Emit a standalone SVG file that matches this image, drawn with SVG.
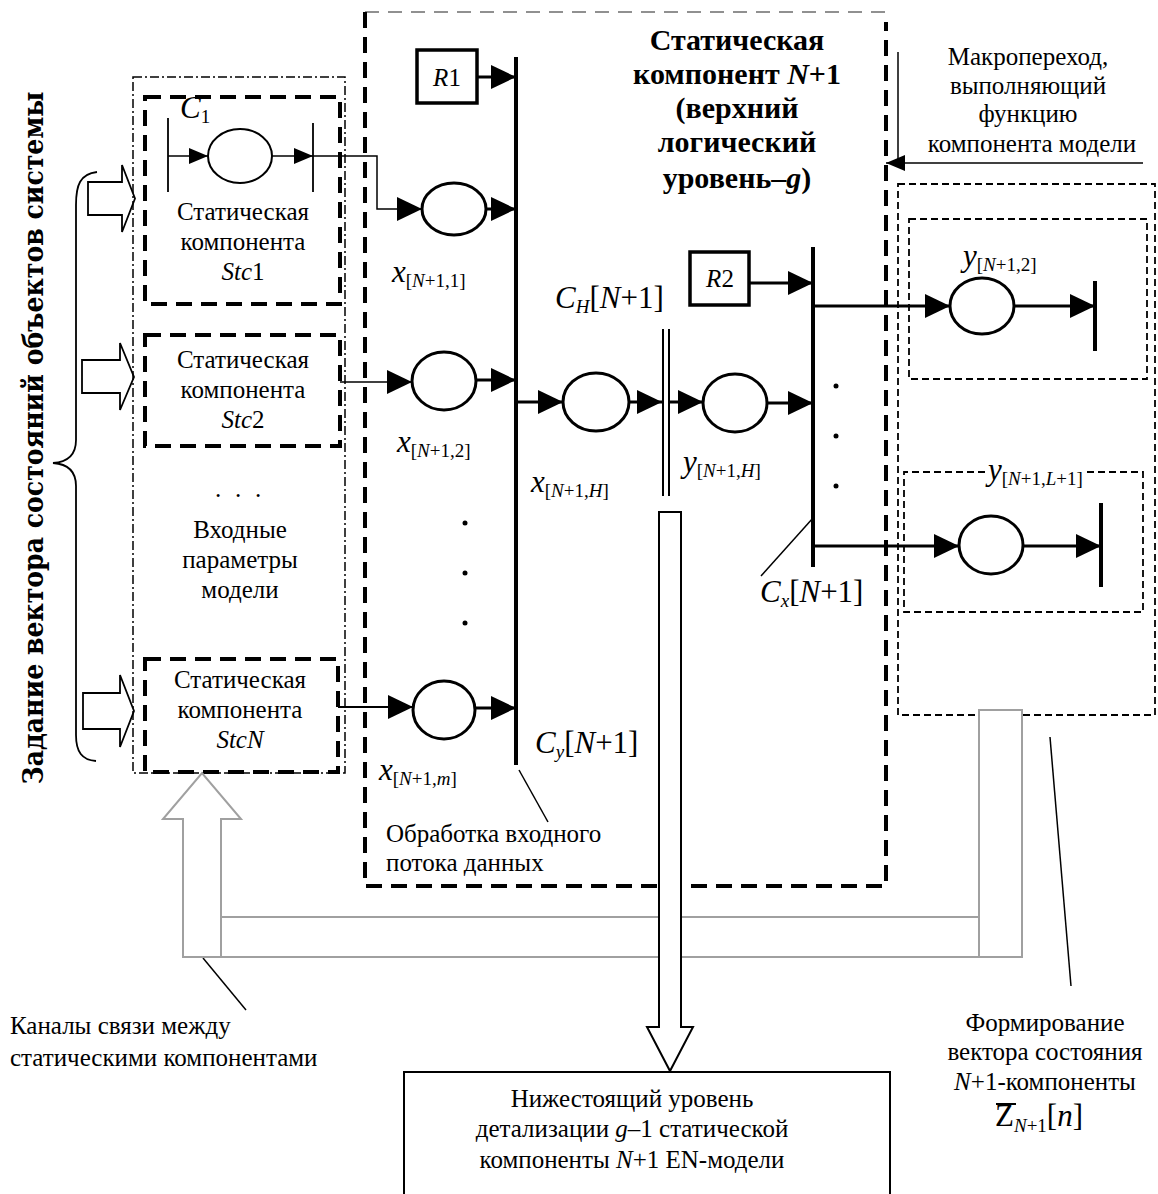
<svg xmlns="http://www.w3.org/2000/svg" width="1158" height="1194" viewBox="0 0 1158 1194">
<defs>
<style>
text{font-family:"Liberation Serif","Times New Roman",serif;fill:#000}
.t{font-size:25px}
.c{text-anchor:middle}
.ttl{font-size:30px;font-weight:bold}
.i{font-style:italic}
.lb{font-size:31px}
.sb{font-size:19px}
.vt{font-family:"DejaVu Serif",serif;font-weight:bold;font-size:28px}
.ln{stroke:#000;fill:none}
.w15{stroke-width:1.5}
.w18{stroke-width:1.8}
.w3{stroke-width:3}
.bar{stroke:#000;stroke-width:4}
.pl{fill:#fff;stroke:#000;stroke-width:3}
.sq{fill:#fff;stroke:#000;stroke-width:3.5}
.dsh{fill:none;stroke:#000;stroke-width:4;stroke-dasharray:16 9}
.dsh2{fill:none;stroke:#000;stroke-width:1.8;stroke-dasharray:7 4}
.dd{fill:none;stroke:#000;stroke-width:1.5;stroke-dasharray:9 3 2 3}
.gr{fill:#fff;stroke:#a0a0a0;stroke-width:2}
.grl{fill:none;stroke:#a0a0a0;stroke-width:2}
.blk{fill:#fff;stroke:#000;stroke-width:1.8}
.dot{fill:#000}
</style>
<marker id="ah" markerUnits="userSpaceOnUse" markerWidth="25" markerHeight="24" viewBox="0 0 25 24" refX="25" refY="12" orient="auto"><path d="M0,0 L25,12 L0,24 Z" fill="#000"/></marker>
<marker id="as" markerUnits="userSpaceOnUse" markerWidth="19" markerHeight="16" viewBox="0 0 19 16" refX="19" refY="8" orient="auto"><path d="M0,0 L19,8 L0,16 Z" fill="#000"/></marker>
</defs>
<rect x="0" y="0" width="1158" height="1194" fill="#fff"/>

<g id="side-label">
<text class="vt c" transform="translate(43,438) rotate(-90)" textLength="693" lengthAdjust="spacingAndGlyphs">Задание вектора состояний объектов системы</text>
<path class="ln w18" d="M97,172 C80,174 76,185 76,205 L76,440 C76,455 68,462 53,463 C68,464 76,471 76,486 L76,735 C76,752 82,760 96,761"/>
<path class="blk" d="M88,182 H122 V165 L135,198.5 L122,232 V215 H88 Z"/>
<path class="blk" d="M82,360 H120 V343 L134,377 L120,410 V393 H82 Z"/>
<path class="blk" d="M83,693 H120 V675 L134,711 L120,747 V729 H83 Z"/>
</g>

<g id="input-params">
<rect class="dd" x="133" y="77" width="212" height="696"/>
<text class="t" x="215 235 255" y="497">...</text>
<text class="t c" x="240" y="538">Входные</text>
<text class="t c" x="240" y="568">параметры</text>
<text class="t c" x="240" y="598">модели</text>
</g>

<g id="stc1">
<rect class="dsh" x="145" y="97" width="195" height="207"/>
<text class="lb" x="180" y="118"><tspan class="i">C</tspan><tspan class="sb" dy="5">1</tspan></text>
<line class="ln w18" x1="168" y1="118" x2="168" y2="192"/>
<line class="ln w18" x1="313" y1="123" x2="313" y2="192"/>
<ellipse cx="240" cy="156" rx="32" ry="27" fill="#fff" stroke="#000" stroke-width="2"/>
<text class="t c" x="243" y="220">Статическая</text>
<text class="t c" x="243" y="250">компонента</text>
<text class="t c" x="243" y="280"><tspan class="i">Stc</tspan>1</text>
</g>

<g id="stc2">
<rect class="dsh" x="145" y="335" width="195" height="111"/>
<text class="t c" x="243" y="368">Статическая</text>
<text class="t c" x="243" y="398">компонента</text>
<text class="t c" x="243" y="428"><tspan class="i">Stc</tspan>2</text>
</g>

<g id="stcN">
<rect class="dsh" x="145" y="659" width="193" height="113"/>
<text class="t c" x="240" y="688">Статическая</text>
<text class="t c" x="240" y="718">компонента</text>
<text class="t c i" x="240" y="748">StcN</text>
</g>

<g id="static-component-N1">
<line x1="365" y1="12" x2="886" y2="12" stroke="#909090" stroke-width="2" stroke-dasharray="14 9"/>
<path class="dsh" d="M365,12 V886 H886 V22" stroke-width="3.5" stroke-dasharray="14 9"/>
<text class="ttl c" x="737" y="50">Статическая</text>
<text class="ttl c" x="737" y="84">компонент <tspan class="i">N</tspan>+1</text>
<text class="ttl c" x="737" y="118">(верхний</text>
<text class="ttl c" x="737" y="152">логический</text>
<text class="ttl c" x="737" y="188">уровень–<tspan class="i">g</tspan>)</text>
<text class="t" x="386" y="842">Обработка входного</text>
<text class="t" x="386" y="871">потока данных</text>
</g>

<g id="R1">
<rect class="sq" x="417" y="50" width="60" height="53"/>
<text class="t c" x="447" y="86" font-size="27"><tspan class="i">R</tspan>1</text>
</g>
<g id="R2">
<rect class="sq" x="690" y="252" width="59" height="53"/>
<text class="t c" x="720" y="287" font-size="27"><tspan class="i">R</tspan>2</text>
</g>

<g id="Cy">
<line class="bar" x1="516" y1="57" x2="516" y2="765"/>
<text class="lb" x="535" y="753"><tspan class="i">C</tspan><tspan class="sb i" dy="5">y</tspan><tspan dy="-5">[<tspan class="i">N</tspan>+1]</tspan></text>
</g>

<g id="x1">
<ellipse class="pl" cx="454" cy="209" rx="32" ry="26"/>
<text class="lb" x="392" y="282"><tspan class="i">x</tspan><tspan class="sb" dy="5">[<tspan class="i">N</tspan>+1,1]</tspan></text>
</g>
<g id="x2">
<ellipse class="pl" cx="444" cy="381" rx="32" ry="29"/>
<text class="lb" x="397" y="452"><tspan class="i">x</tspan><tspan class="sb" dy="5">[<tspan class="i">N</tspan>+1,2]</tspan></text>
</g>
<g id="xm">
<ellipse class="pl" cx="444" cy="710" rx="31" ry="29"/>
<text class="lb" x="379" y="780"><tspan class="i">x</tspan><tspan class="sb" dy="5">[<tspan class="i">N</tspan>+1,<tspan class="i">m</tspan>]</tspan></text>
</g>
<g id="dots-x">
<circle class="dot" cx="465" cy="523" r="2.5"/>
<circle class="dot" cx="465" cy="573" r="2.5"/>
<circle class="dot" cx="465" cy="623" r="2.5"/>
</g>

<g id="xH">
<ellipse class="pl" cx="596" cy="402" rx="33" ry="29"/>
<text class="lb" x="531" y="492"><tspan class="i">x</tspan><tspan class="sb" dy="5">[<tspan class="i">N</tspan>+1,<tspan class="i">H</tspan>]</tspan></text>
</g>
<g id="CH">
<line class="ln" stroke-width="2" x1="663" y1="329" x2="663" y2="496"/>
<line class="ln" stroke-width="2" x1="669" y1="329" x2="669" y2="496"/>
<text class="lb" x="555" y="308"><tspan class="i">C</tspan><tspan class="sb i" dy="5">H</tspan><tspan dy="-5">[<tspan class="i">N</tspan>+1]</tspan></text>
</g>
<g id="yH">
<ellipse class="pl" cx="735" cy="403" rx="32" ry="29"/>
<text class="lb" x="683" y="472"><tspan class="i">y</tspan><tspan class="sb" dy="5">[<tspan class="i">N</tspan>+1,<tspan class="i">H</tspan>]</tspan></text>
</g>

<g id="Cx">
<line class="bar" x1="813" y1="247" x2="813" y2="567"/>
<circle class="dot" cx="836" cy="386" r="2.5"/>
<circle class="dot" cx="836" cy="436" r="2.5"/>
<circle class="dot" cx="836" cy="486" r="2.5"/>
<text class="lb" x="760" y="602"><tspan class="i">C</tspan><tspan class="sb i" dy="5">x</tspan><tspan dy="-5">[<tspan class="i">N</tspan>+1]</tspan></text>
</g>

<g id="macro-transition">
<text class="t c" x="1028" y="65">Макропереход,</text>
<text class="t c" x="1028" y="94">выполняющий</text>
<text class="t c" x="1028" y="122">функцию</text>
<text class="t c" x="1032" y="152">компонента модели</text>
</g>

<g id="outputs">
<rect class="dsh2" x="898" y="184" width="257" height="531"/>
</g>
<g id="y2">
<rect class="dsh2" x="909" y="219" width="238" height="160"/>
<ellipse class="pl" cx="982" cy="306" rx="32" ry="28"/>
<line class="bar" x1="1095" y1="281" x2="1095" y2="351"/>
<text class="lb" x="963" y="266"><tspan class="i">y</tspan><tspan class="sb" dy="5">[<tspan class="i">N</tspan>+1,2]</tspan></text>
</g>
<g id="yL1">
<path class="dsh2" d="M985,472 H904 V612 H1143 V472 H1083"/>
<ellipse class="pl" cx="991" cy="545" rx="32" ry="29"/>
<line class="bar" x1="1101" y1="503" x2="1101" y2="587"/>
<text class="lb" x="988" y="480"><tspan class="i">y</tspan><tspan class="sb" dy="5">[<tspan class="i">N</tspan>+1,<tspan class="i">L</tspan>+1]</tspan></text>
</g>

<g id="connectors">
<line class="ln w15" x1="168" y1="156" x2="208" y2="156" marker-end="url(#as)"/>
<line class="ln w15" x1="272" y1="156" x2="313" y2="156" marker-end="url(#as)"/>
<path class="ln w15" d="M313,156 H377 V209 H422" marker-end="url(#ah)"/>
<line class="ln w3" x1="486" y1="209" x2="516" y2="209" marker-end="url(#ah)"/>
<line class="ln w3" x1="477" y1="77" x2="516" y2="77" marker-end="url(#ah)"/>
<line class="ln w15" x1="340" y1="382" x2="412" y2="382" marker-end="url(#ah)"/>
<line class="ln w3" x1="476" y1="380" x2="516" y2="380" marker-end="url(#ah)"/>
<line class="ln w18" x1="338" y1="707" x2="413" y2="707" marker-end="url(#ah)"/>
<line class="ln w3" x1="475" y1="708" x2="516" y2="708" marker-end="url(#ah)"/>
<line class="ln w3" x1="516" y1="402" x2="563" y2="402" marker-end="url(#ah)"/>
<line class="ln w3" x1="629" y1="402" x2="662" y2="402" marker-end="url(#ah)"/>
<line class="ln w3" x1="670" y1="402" x2="703" y2="402" marker-end="url(#ah)"/>
<line class="ln w3" x1="767" y1="403" x2="813" y2="403" marker-end="url(#ah)"/>
<line class="ln w3" x1="749" y1="283" x2="813" y2="283" marker-end="url(#ah)"/>
<line class="ln w3" x1="813" y1="306" x2="950" y2="306" marker-end="url(#ah)"/>
<line class="ln w3" x1="1014" y1="306" x2="1095" y2="306" marker-end="url(#ah)"/>
<line class="ln w3" x1="813" y1="546" x2="959" y2="546" marker-end="url(#ah)"/>
<line class="ln w3" x1="1023" y1="546" x2="1101" y2="546" marker-end="url(#ah)"/>
<line class="ln w15" x1="898" y1="52" x2="898" y2="162"/>
<line class="ln w15" x1="1143" y1="163" x2="886" y2="163" marker-end="url(#as)"/>
<line class="ln w15" x1="813" y1="518" x2="761" y2="576"/>
<line class="ln w15" x1="519" y1="770" x2="548" y2="822"/>
<line class="ln w15" x1="1050" y1="737" x2="1071" y2="986"/>
<line class="ln w15" x1="203" y1="958" x2="246" y2="1010"/>
</g>

<g id="channels">
<rect class="gr" x="979" y="710" width="43" height="247"/>
<path class="gr" d="M183,957 V819 H163 L202,773 L241,819 H221 V957 Z"/>
<path class="grl" d="M221,917 H979 M183,957 H1022"/>
<text class="t" x="10" y="1034">Каналы связи между</text>
<text class="t" x="10" y="1066">статическими компонентами</text>
</g>

<g id="lower-level">
<path fill="#fff" stroke="#000" stroke-width="2" d="M659,512 H681 V1027 H693 L670,1071 L647,1027 H659 Z"/>
<rect x="404" y="1072" width="486" height="140" fill="#fff" stroke="#000" stroke-width="2"/>
<text class="t c" x="632" y="1107">Нижестоящий уровень</text>
<text class="t c" x="632" y="1137">детализации <tspan class="i">g</tspan>–1 статической</text>
<text class="t c" x="632" y="1168">компоненты <tspan class="i">N</tspan>+1 EN-модели</text>
</g>

<g id="state-vector">
<text class="t c" x="1045" y="1031">Формирование</text>
<text class="t c" x="1045" y="1060">вектора состояния</text>
<text class="t c" x="1045" y="1090"><tspan class="i">N</tspan>+1-компоненты</text>
<text class="lb" x="995" y="1126">Z<tspan class="sb" dy="6"><tspan class="i">N</tspan>+1</tspan><tspan dy="-6">[<tspan class="i">n</tspan>]</tspan></text>
<line x1="996" y1="1104" x2="1016" y2="1104" stroke="#000" stroke-width="2"/>
</g>
</svg>
